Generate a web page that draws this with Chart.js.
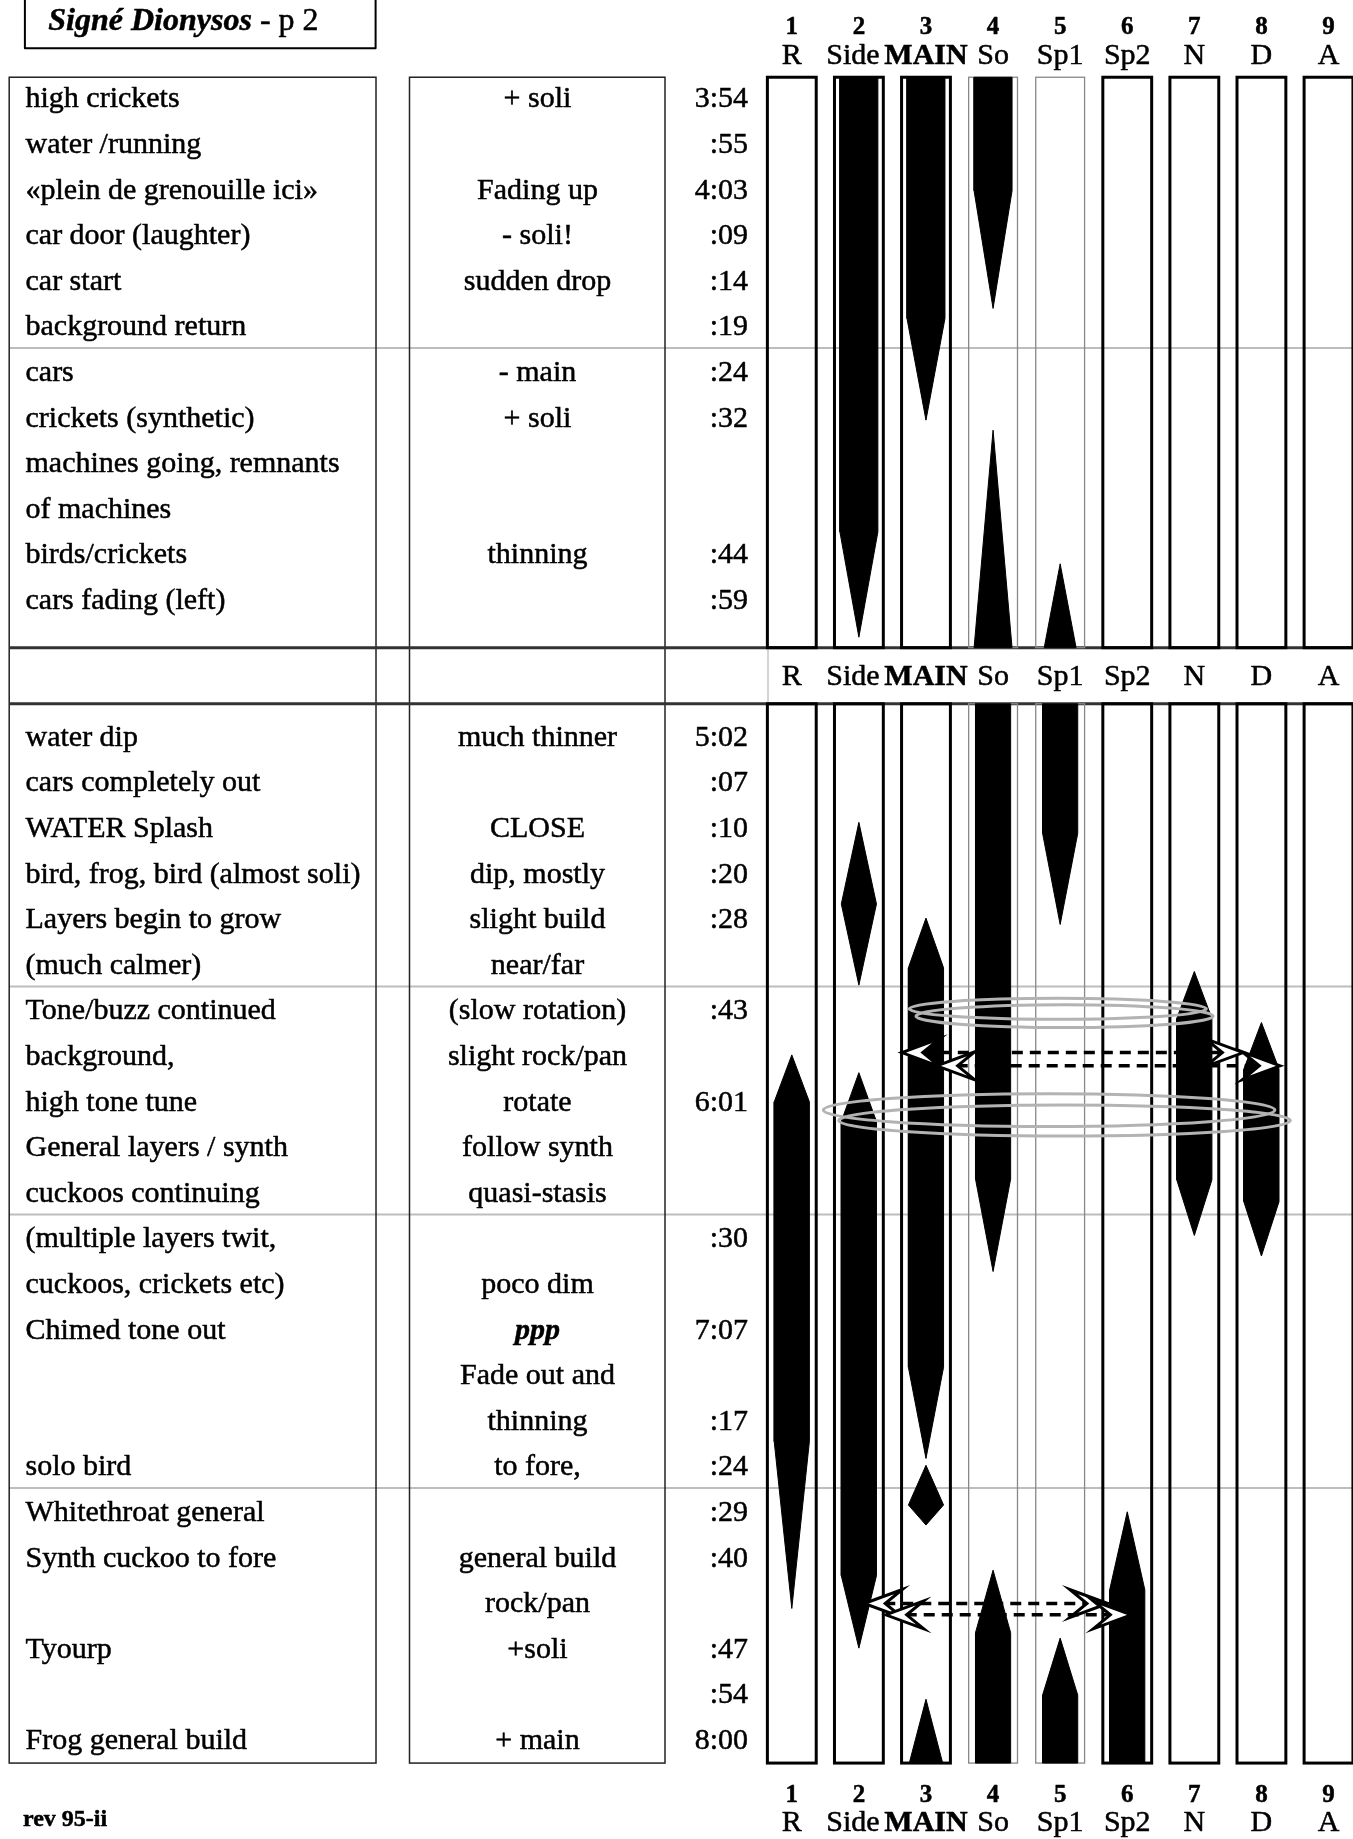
<!DOCTYPE html>
<html>
<head>
<meta charset="utf-8">
<title>Signé Dionysos - p 2</title>
<script src="https://cdn.jsdelivr.net/npm/chart.js@4.4.1/dist/chart.umd.min.js"></script>
<style>
  html, body { margin: 0; padding: 0; background: #fff; }
  canvas { display: block; }
</style>
</head>
<body>
<canvas id="score" width="1353" height="1839"></canvas>
<script>
// diffusion channels, left to right (numbered 1..9)
const channels = ['R', 'Side', 'MAIN', 'So', 'Sp1', 'Sp2', 'N', 'D', 'A']

// one entry per score row; rows 12 and 13 are the middle header band
const events = [
  'high crickets', 'water /running', '«plein de grenouille ici»', 'car door (laughter)',
  'car start', 'background return', 'cars', 'crickets (synthetic)',
  'machines going, remnants', 'of machines', 'birds/crickets', 'cars fading (left)',
  '', '',
  'water dip', 'cars completely out', 'WATER Splash', 'bird, frog, bird (almost soli)',
  'Layers begin to grow', '(much calmer)', 'Tone/buzz continued', 'background,',
  'high tone tune', 'General layers / synth', 'cuckoos continuing', '(multiple layers twit,',
  'cuckoos, crickets etc)', 'Chimed tone out', '', '',
  'solo bird', 'Whitethroat general', 'Synth cuckoo to fore', '',
  'Tyourp', '', 'Frog general build'
]
const treatments = [
  '+ soli', '', 'Fading up', '- soli!', 'sudden drop', '', '- main', '+ soli',
  '', '', 'thinning', '',
  '', '',
  'much thinner', '', 'CLOSE', 'dip, mostly', 'slight build', 'near/far',
  '(slow rotation)', 'slight rock/pan', 'rotate', 'follow synth', 'quasi-stasis', '',
  'poco dim', 'ppp', 'Fade out and', 'thinning', 'to fore,', '',
  'general build', 'rock/pan', '+soli', '', '+ main'
]
const times = [
  '3:54', ':55', '4:03', ':09', ':14', ':19', ':24', ':32', '', '', ':44', ':59',
  '', '',
  '5:02', ':07', ':10', ':20', ':28', '', ':43', '', '6:01', '', '', ':30',
  '', '7:07', '', ':17', ':24', ':29', ':40', '', ':47', ':54', '8:00'
]

// extents of the two score sections, in rows
const topSection = [-0.44, 12.07]
const bottomSection = [13.3, 36.53]
// light rules between phrases
const ruleRows = [5.5, 19.5, 24.5, 30.5]

// each voice: channel and a profile of [row, level]; level 1 = full width
const voices = [
  { ch: 2, profile: [[topSection[0], 1], [9.53, 1], [11.84, 0]] },
  { ch: 3, profile: [[topSection[0], 1], [4.85, 1], [7.08, 0]] },
  { ch: 4, profile: [[topSection[0], 1], [2.05, 1], [4.63, 0]] },
  { ch: 4, profile: [[7.3, 0], [topSection[1], 1]] },
  { ch: 5, profile: [[10.23, 0], [topSection[1], 0.84]] },
  { ch: 4, profile: [[bottomSection[0], 1], [23.72, 1], [25.75, 0]] },
  { ch: 5, profile: [[bottomSection[0], 1], [16.14, 1], [18.14, 0]] },
  { ch: 2, profile: [[15.9, 0], [17.69, 1], [19.47, 0]] },
  { ch: 3, profile: [[18.0, 0], [19.09, 1], [27.85, 1], [29.85, 0]] },
  { ch: 3, profile: [[30.0, 0], [30.87, 1], [31.31, 0]] },
  { ch: 3, profile: [[35.13, 0], [bottomSection[1], 0.95]] },
  { ch: 7, profile: [[19.17, 0], [20.2, 1], [23.74, 1], [24.96, 0]] },
  { ch: 8, profile: [[20.29, 0], [21.31, 1], [24.22, 1], [25.41, 0]] },
  { ch: 1, profile: [[21.0, 0], [22.03, 1], [29.48, 1], [33.14, 0]] },
  { ch: 2, profile: [[21.39, 0], [22.46, 1], [32.42, 1], [34.01, 0]] },
  { ch: 4, profile: [[32.3, 0], [33.67, 1], [bottomSection[1], 1]] },
  { ch: 5, profile: [[33.79, 0], [35.04, 1], [bottomSection[1], 1]] },
  { ch: 6, profile: [[31.02, 0], [32.73, 1], [bottomSection[1], 1]] }
]

// rotation rings: left / right edge in channels, centre row, half height in rows
const rotations = [
  { left: 2.75, right: 7.18, row: 19.99, half: 0.23 },
  { left: 2.85, right: 7.28, row: 20.15, half: 0.25 },
  { left: 1.47, right: 8.2, row: 22.21, half: 0.36 },
  { left: 1.7, right: 8.43, row: 22.44, half: 0.34 }
]
// rock/pan double arrows: tip to tip in channels, at a row
const pans = [
  { from: 2.64, to: 7.73, row: 20.95 },
  { from: 3.16, to: 8.28, row: 21.24 },
  { from: 2.08, to: 5.71, row: 33.03 },
  { from: 2.4, to: 6.06, row: 33.28 }
]

// page layout (pixels)
const W = 1353, H = 1839
const ROW_TOP = 97.3, ROW_H = 45.6
const CH1_X = 791.8, CH_STEP = 67.09
const BOX_HALF = 0.364
const FONT = '"Liberation Serif", "Times New Roman", serif'

const xMin = 1 - CH1_X / CH_STEP
const yMin = -ROW_TOP / ROW_H

function voicePolygon (voice) {
  const half = voice.profile[0][0] < 12.5 ? 0.283 : 0.262
  const left = voice.profile.map(([r, l]) => ({ x: voice.ch - l * half, y: r }))
  const right = voice.profile.slice().reverse().map(([r, l]) => ({ x: voice.ch + l * half, y: r }))
  const pts = left.concat(right)
  pts.push(pts[0])
  return pts
}

function arrowHead (ctx, x, y, dir) {
  // dir -1 points left, 1 points right
  const L = 38, HH = 14
  ctx.beginPath()
  ctx.moveTo(x, y)
  ctx.lineTo(x - dir * L, y - HH)
  ctx.lineTo(x - dir * L * 0.55, y)
  ctx.lineTo(x - dir * L, y + HH)
  ctx.closePath()
  ctx.fillStyle = '#fff'
  ctx.fill()
  ctx.lineWidth = 3
  ctx.strokeStyle = '#000'
  ctx.lineJoin = 'miter'
  ctx.stroke()
}

// slightly heavier text, closer to the printed page
function text (ctx, str, x, y) {
  ctx.fillText(str, x, y)
  ctx.strokeText(str, x, y)
}

const gridPlugin = {
  id: 'scoreGrid',
  beforeDatasetsDraw (chart) {
    const { ctx } = chart
    const px = v => chart.scales.x.getPixelForValue(v)
    const py = v => chart.scales.y.getPixelForValue(v)
    ctx.save()
    // phrase rules
    ctx.strokeStyle = '#bdbdbd'
    ctx.lineWidth = 2
    ruleRows.forEach(r => {
      ctx.beginPath()
      ctx.moveTo(9, py(r))
      ctx.lineTo(W, py(r))
      ctx.stroke()
    })
    // text table boxes
    ctx.strokeStyle = '#222'
    ctx.lineWidth = 1.5
    ctx.strokeRect(9.2, py(topSection[0]), 376 - 9.2, py(bottomSection[1]) - py(topSection[0]))
    ctx.strokeRect(409.5, py(topSection[0]), 665 - 409.5, py(bottomSection[1]) - py(topSection[0]))
    // middle band
    ctx.strokeStyle = '#333'
    ctx.lineWidth = 3
    ;[topSection[1], bottomSection[0]].forEach(r => {
      ctx.beginPath()
      ctx.moveTo(9.2, py(r))
      ctx.lineTo(W, py(r))
      ctx.stroke()
    })
    ctx.strokeStyle = '#aaa'
    ctx.lineWidth = 1
    ctx.beginPath()
    ctx.moveTo(768, py(topSection[1]))
    ctx.lineTo(768, py(bottomSection[0]))
    ctx.stroke()
    // channel boxes
    channels.forEach((name, i) => {
      const ch = i + 1
      const thin = ch === 4 || ch === 5
      ctx.strokeStyle = thin ? '#888' : '#000'
      ctx.lineWidth = thin ? 1.3 : 3
      ;[topSection, bottomSection].forEach(([a, b]) => {
        const x0 = px(ch - BOX_HALF), x1 = px(ch + BOX_HALF)
        ctx.strokeRect(x0, py(a), x1 - x0, py(b) - py(a))
      })
    })
    ctx.restore()
  },
  afterDatasetsDraw (chart) {
    const { ctx } = chart
    const px = v => chart.scales.x.getPixelForValue(v)
    const py = v => chart.scales.y.getPixelForValue(v)
    ctx.save()
    // rotation rings
    ctx.strokeStyle = '#b3b3b3'
    ctx.lineWidth = 3
    rotations.forEach(o => {
      const cx = px((o.left + o.right) / 2)
      const rx = (px(o.right) - px(o.left)) / 2
      const ry = Math.abs(py(o.row + o.half) - py(o.row))
      ctx.beginPath()
      ctx.ellipse(cx, py(o.row), rx, ry, 0, 0, Math.PI * 2)
      ctx.stroke()
    })
    // rock/pan arrows
    pans.forEach(p => {
      const y = py(p.row), x0 = px(p.from), x1 = px(p.to)
      ctx.setLineDash([11, 7])
      ctx.lineWidth = 3.5
      ctx.strokeStyle = '#000'
      ctx.beginPath()
      ctx.moveTo(x0 + 20, y)
      ctx.lineTo(x1 - 20, y)
      ctx.stroke()
      ctx.setLineDash([])
      arrowHead(ctx, x0, y, -1)
      arrowHead(ctx, x1, y, 1)
    })

    ctx.fillStyle = '#000'
    ctx.strokeStyle = '#000'
    ctx.lineWidth = 0.5
    ctx.lineJoin = 'round'
    ctx.textBaseline = 'alphabetic'
    // table text
    events.forEach((t, r) => {
      if (!t) return
      ctx.font = '30px ' + FONT
      ctx.textAlign = 'left'
      text(ctx, t, 25.5, py(r) + 10)
    })
    treatments.forEach((t, r) => {
      if (!t) return
      ctx.font = (t === 'ppp' ? 'bold italic 30px ' : '30px ') + FONT
      ctx.textAlign = 'center'
      text(ctx, t, 537.5, py(r) + 10)
    })
    times.forEach((t, r) => {
      if (!t) return
      ctx.font = '30px ' + FONT
      ctx.textAlign = 'right'
      text(ctx, t, 748, py(r) + 10)
    })
    // channel labels: top, middle band, bottom
    ctx.textAlign = 'center'
    channels.forEach((name, i) => {
      const x = px(i + 1)
      const nx = name === 'Side' ? x - 6 : x
      ctx.font = 'bold 25px ' + FONT
      text(ctx, String(i + 1), x, py(-1.39))
      text(ctx, String(i + 1), x, py(37.38))
      ctx.font = (name === 'MAIN' ? 'bold 30px ' : '30px ') + FONT
      text(ctx, name, nx, py(-0.73))
      text(ctx, name, nx, py(12.89))
      text(ctx, name, nx, py(38.03))
    })
    // title box
    ctx.lineWidth = 2
    ctx.strokeRect(24.9, -4, 375.6 - 24.9, 48.3 + 4)
    ctx.lineWidth = 0.5
    ctx.textAlign = 'left'
    ctx.font = 'bold italic 32px ' + FONT
    const tw = ctx.measureText('Signé Dionysos').width
    text(ctx, 'Signé Dionysos', 48.3, 30)
    ctx.font = '32px ' + FONT
    text(ctx, ' - p 2', 48.3 + tw, 30)
    // revision note
    ctx.font = 'bold 24px ' + FONT
    text(ctx, 'rev 95-ii', 23, 1826)
    ctx.restore()
  }
}

new Chart(document.getElementById('score').getContext('2d'), {
  type: 'line',
  data: {
    datasets: voices.map(v => ({
      data: voicePolygon(v),
      fill: 'shape',
      backgroundColor: '#000',
      borderColor: '#000',
      borderWidth: 1,
      pointRadius: 0,
      pointHitRadius: 0,
      tension: 0
    }))
  },
  options: {
    responsive: false,
    animation: false,
    events: [],
    layout: { padding: 0 },
    plugins: {
      legend: { display: false },
      tooltip: { enabled: false }
    },
    scales: {
      x: {
        type: 'linear',
        display: false,
        min: xMin,
        max: xMin + W / CH_STEP
      },
      y: {
        type: 'linear',
        display: false,
        reverse: true,
        min: yMin,
        max: yMin + H / ROW_H
      }
    }
  },
  plugins: [gridPlugin]
})
</script>
</body>
</html>
